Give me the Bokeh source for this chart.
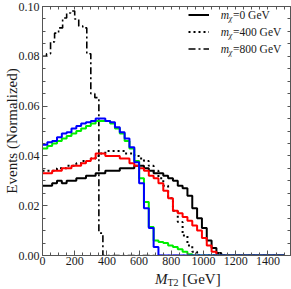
import math
from bokeh.plotting import figure
from bokeh.layouts import column
from bokeh.models import (Range1d, SingleIntervalTicker, FixedTicker, PrintfTickFormatter,
                          LinearAxis, Label, Legend, LegendItem, Div)
from bokeh.embed import file_html
from bokeh.resources import INLINE

# ---- data ----
bin_width = 30      # GeV, solid/dotted/colored histograms
bin_width_800 = 25  # GeV, dash-dot histogram

mx0_black = [0.028, 0.028, 0.029, 0.030, 0.029, 0.030, 0.030, 0.031, 0.031, 0.032,
             0.032, 0.033, 0.033, 0.034, 0.034, 0.034, 0.035, 0.035, 0.035, 0.036,
             0.036, 0.035, 0.034, 0.033, 0.033, 0.032, 0.031, 0.030, 0.028, 0.027,
             0.024, 0.019, 0.015, 0.011, 0.006, 0.003, 0.001] + [0.0] * 13
mx400_dotted = [0.034, 0.034, 0.034, 0.035, 0.035, 0.036, 0.036, 0.037, 0.038, 0.038,
                0.039, 0.040, 0.041, 0.042, 0.042, 0.042, 0.042, 0.041, 0.041, 0.040,
                0.039, 0.038, 0.036, 0.034, 0.031, 0.028, 0.023, 0.018, 0.0135, 0.008,
                0.004, 0.0015] + [0.0] * 18
mx800_dashdot = [0.080, 0.081, 0.0858, 0.0893, 0.0914, 0.0954, 0.0974, 0.0982, 0.095, 0.0922,
                 0.0914, 0.081, 0.065, 0.0634, 0.009] + [0.0] * 45
red_vals = [0.033, 0.033, 0.034, 0.034, 0.035, 0.035, 0.036, 0.036, 0.037, 0.038,
            0.039, 0.041, 0.041, 0.040, 0.040, 0.040, 0.039, 0.039, 0.037, 0.036,
            0.035, 0.034, 0.032, 0.031, 0.029, 0.026, 0.023, 0.018, 0.017, 0.0155,
            0.014, 0.012, 0.010, 0.007, 0.004, 0.0015] + [0.0] * 14
green_vals = [0.043, 0.044, 0.045, 0.046, 0.047, 0.048, 0.049, 0.050, 0.051, 0.052,
              0.053, 0.054, 0.054, 0.054, 0.053, 0.051, 0.049, 0.046, 0.043, 0.038,
              0.031, 0.0215, 0.0114, 0.006, 0.0054, 0.005, 0.004, 0.0034, 0.0025, 0.0015,
              0.0005] + [0.0] * 19
blue_vals = [0.0445, 0.0455, 0.046, 0.0475, 0.049, 0.0495, 0.051, 0.052, 0.053, 0.0535,
             0.054, 0.055, 0.055, 0.054, 0.0535, 0.0515, 0.0495, 0.047, 0.0435, 0.0375,
             0.029, 0.019, 0.011, 0.0034] + [0.0] * 26

legend_values = ["=0 GeV", "=400 GeV", "=800 GeV"]
x_tick_interval = 200
y_tick_interval = 0.02
X_MAX = 1540
Y_MAX = 0.10

SERIF = "Liberation Serif"
FRAME = "#555555"
TXT = "#1a1a1a"

def step_xy(vals, width):
    xs = [width * i for i in range(len(vals) + 1)]
    ys = list(vals) + [vals[-1]]
    return xs, ys

p = figure(width=291, height=272, output_backend="svg", toolbar_location=None,
           x_range=Range1d(0, X_MAX), y_range=Range1d(0, Y_MAX),
           min_border_left=41, min_border_right=1, min_border_top=6, min_border_bottom=17)
p.grid.visible = False
p.outline_line_color = FRAME
p.outline_line_width = 1

for ax in (p.xaxis[0], p.yaxis[0]):
    ax.axis_line_color = FRAME
    ax.major_tick_line_color = FRAME
    ax.minor_tick_line_color = FRAME
    ax.major_tick_in = 5
    ax.major_tick_out = 0
    ax.minor_tick_in = 3
    ax.minor_tick_out = 0
    ax.major_label_text_font = SERIF
    ax.major_label_text_font_size = "12px"
    ax.major_label_text_color = TXT

p.xaxis[0].ticker = SingleIntervalTicker(interval=x_tick_interval, num_minor_ticks=4)
p.yaxis[0].ticker = SingleIntervalTicker(interval=y_tick_interval, num_minor_ticks=4)
p.yaxis[0].formatter = PrintfTickFormatter(format="%.2f")
p.xaxis[0].major_label_standoff = 1
p.yaxis[0].major_label_standoff = 3
p.yaxis[0].axis_label = "Events (Normalized)"
p.yaxis[0].axis_label_text_font = SERIF
p.yaxis[0].axis_label_text_font_style = "normal"
p.yaxis[0].axis_label_text_font_size = "15px"
p.yaxis[0].axis_label_text_color = TXT
p.yaxis[0].axis_label_standoff = -4

# mirror ticks on the right and top (ticks only, no labels)
n_x = int(X_MAX // (x_tick_interval / 4))
n_y = int(round(Y_MAX / (y_tick_interval / 4)))
for loc, minor in (("right", [i * y_tick_interval / 4 for i in range(n_y + 1)]),
                   ("above", [i * x_tick_interval / 4 for i in range(n_x + 1)])):
    ax = LinearAxis(ticker=FixedTicker(ticks=[], minor_ticks=minor))
    ax.axis_line_color = FRAME
    ax.minor_tick_line_color = FRAME
    ax.minor_tick_in = 3
    ax.minor_tick_out = 0
    ax.major_label_standoff = 0
    p.add_layout(ax, loc)

# histograms
xs, ys = step_xy(mx0_black, bin_width)
r_solid = p.step(xs, ys, mode="after", line_color="black", line_width=2)
xs, ys = step_xy(mx400_dotted, bin_width)
r_dot = p.step(xs, ys, mode="after", line_color="black", line_width=2, line_dash="2 3")
xs, ys = step_xy(mx800_dashdot, bin_width_800)
r_dd = p.step(xs, ys, mode="after", line_color="black", line_width=1.6, line_dash="7 3 2 3")
xs, ys = step_xy(red_vals, bin_width)
p.step(xs, ys, mode="after", line_color="#ff0000", line_width=2)
xs, ys = step_xy(green_vals, bin_width)
p.step(xs, ys, mode="after", line_color="#00ee00", line_width=2)
xs, ys = step_xy(blue_vals, bin_width)
p.step(xs, ys, mode="after", line_color="#0000ff", line_width=2)

legend = Legend(items=[LegendItem(label=t, renderers=[r])
                       for t, r in zip(legend_values, (r_solid, r_dot, r_dd))],
                location="top_right", glyph_width=21, glyph_height=17, spacing=0,
                label_standoff=24, label_width=57, label_height=17,
                label_text_font=SERIF, label_text_font_size="11.5px", label_text_color=TXT,
                background_fill_alpha=0, border_line_alpha=0, padding=0, margin=0)
p.add_layout(legend, "center")

# italic m with subscript chi in front of each legend label
def gx(page_x):
    return (page_x - 41) * X_MAX / 249.0
def gy(page_y):
    return (255 - page_y) * Y_MAX / 249.0

for ry in (14.5, 31.5, 48.5):
    p.add_layout(Label(x=gx(220), y=gy(ry), text="m", text_font=SERIF, text_font_style="italic",
                       text_font_size="11.5px", text_baseline="middle", text_color=TXT))
    p.add_layout(Label(x=gx(228), y=gy(ry + 3), text="χ", text_font=SERIF, text_font_style="italic",
                       text_font_size="8px", text_baseline="middle", text_color=TXT))

# x axis title  M_T2 [GeV]  as real HTML text below the figure
xtitle = Div(text=('<span style="font-family:\'Liberation Serif\';font-size:15px;color:#1a1a1a">'
                   '<i>M</i><sub style="font-size:10px;vertical-align:-2px">T2</sub> [GeV]</span>'),
             width=291, height=17, margin=0,
             styles={"padding-left": "155px", "line-height": "15px", "margin-top": "0px"})

layout = column(p, xtitle, spacing=0)
open("out.html", "w").write(file_html(layout, INLINE))
